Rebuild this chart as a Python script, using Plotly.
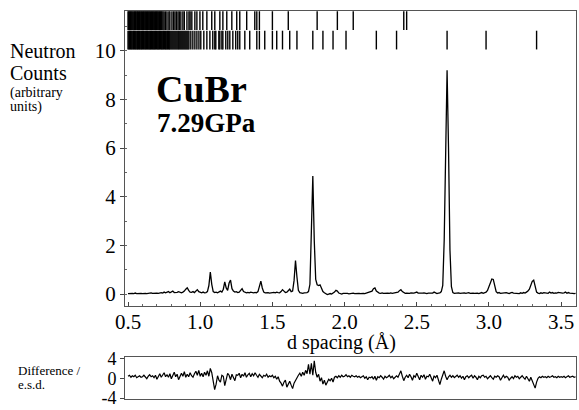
import plotly.graph_objects as go

# ---------------- data ----------------
d_start = 0.50
d_step = 0.01
counts = [
    0.02, 0.03, 0.01, 0.03, 0.02, 0.04, 0.02, 0.03, 0.01, 0.03,   # 0.50
    0.02, 0.04, 0.03, 0.02, 0.04, 0.03, 0.05, 0.03, 0.04, 0.02,   # 0.60
    0.04, 0.03, 0.05, 0.06, 0.04, 0.08, 0.05, 0.06, 0.10, 0.05,   # 0.70
    0.08, 0.12, 0.06, 0.05, 0.07, 0.10, 0.06, 0.05, 0.08, 0.12,   # 0.80
    0.20, 0.26, 0.15, 0.08, 0.07, 0.10, 0.06, 0.12, 0.18, 0.10,   # 0.90
    0.06, 0.05, 0.08, 0.05, 0.06, 0.10, 0.35, 0.90, 0.40, 0.10,   # 1.00
    0.06, 0.08, 0.05, 0.07, 0.12, 0.08, 0.20, 0.50, 0.25, 0.15,   # 1.10
    0.45, 0.57, 0.22, 0.12, 0.08, 0.10, 0.06, 0.08, 0.14, 0.22,   # 1.20
    0.10, 0.06, 0.05, 0.07, 0.05, 0.08, 0.06, 0.05, 0.07, 0.05,   # 1.30
    0.10, 0.30, 0.53, 0.25, 0.08, 0.05, 0.07, 0.06, 0.04, 0.06,   # 1.40
    0.05, 0.07, 0.05, 0.08, 0.06, 0.05, 0.10, 0.18, 0.12, 0.06,   # 1.50
    0.08, 0.15, 0.20, 0.10, 0.12, 0.55, 1.38, 0.70, 0.15, 0.06,   # 1.60
    0.04, 0.03, 0.05, 0.04, 0.06, 0.10, 0.40, 2.60, 4.85, 2.20,   # 1.70
    0.60, 0.38, 0.35, 0.38, 0.25, 0.10, 0.05, 0.02, -0.02, 0.00,  # 1.80
    0.02, 0.00, 0.03, 0.08, 0.15, 0.12, 0.04, 0.02, 0.00, 0.03,   # 1.90
    0.04, 0.02, 0.03, 0.01, 0.03, 0.02, 0.04, 0.02, 0.03, 0.02,   # 2.00
    0.03, 0.02, 0.04, 0.03, 0.02, 0.04, 0.03, 0.05, 0.08, 0.12,   # 2.10
    0.22, 0.25, 0.12, 0.06, 0.04, 0.03, 0.05, 0.03, 0.04, 0.02,   # 2.20
    0.04, 0.03, 0.05, 0.03, 0.04, 0.06, 0.04, 0.08, 0.14, 0.18,   # 2.30
    0.10, 0.05, 0.03, 0.04, 0.02, 0.03, 0.05, 0.03, 0.04, 0.06,   # 2.40
    0.08, 0.04, 0.03, 0.02, 0.04, 0.05, 0.03, 0.02, 0.04, 0.03,   # 2.50
    0.05, 0.04, 0.08, 0.03, 0.02, 0.04, 0.05, 0.10, 0.35, 2.20,   # 2.60
    6.80, 9.20, 6.00, 1.80, 0.30, 0.06, 0.03, 0.04, 0.02, 0.05,   # 2.70
    0.03, 0.04, 0.02, 0.05, 0.03, 0.04, 0.06, 0.03, 0.05, 0.04,   # 2.80
    0.03, 0.05, 0.04, 0.02, 0.04, 0.06, 0.03, 0.05, 0.08, 0.15,   # 2.90
    0.32, 0.50, 0.62, 0.60, 0.35, 0.10, 0.04, 0.06, 0.03, 0.04,   # 3.00
    0.05, 0.03, 0.06, 0.04, 0.02, 0.05, 0.07, 0.04, 0.03, 0.05,   # 3.10
    0.04, 0.02, 0.05, 0.03, 0.06, 0.04, 0.08, 0.12, 0.20, 0.38,   # 3.20
    0.52, 0.57, 0.30, 0.08, 0.04, 0.02, 0.05, 0.03, 0.06, 0.04,   # 3.30
    0.05, 0.03, 0.08, 0.04, 0.06, 0.03, 0.05, 0.04, 0.07, 0.05,   # 3.40
    0.06, 0.04, 0.05, 0.08, 0.03, 0.06, 0.04, 0.05, 0.03, 0.02,   # 3.50
    0.03,                                                          # 3.60
]
d_spacing = [round(d_start + i * d_step, 3) for i in range(len(counts))]

diff_start = 0.50
diff_step = 0.01
difference = [
    0.4, 0.6, 0.2, 0.5, 0.3, 0.6, 0.1, 0.4, 0.5, 0.2,            # 0.50
    0.3, 0.6, 0.2, -0.1, 0.4, 0.7, 0.3, 0.5, 0.1, 0.6,           # 0.60
    -0.2, 0.5, 0.9, 0.2, 0.6, 1.1, 0.3, 0.7, 0.2, 0.9,           # 0.70
    -0.1, 0.6, 1.2, 0.3, 0.8, -0.3, 0.5, 1.0, 0.4, 1.3,          # 0.80
    0.2, 0.8, 0.3, 1.1, 0.5, 0.2, 0.9, 1.4, 0.6, 1.6,            # 0.90
    0.4, 1.0, 0.3, 1.2, 0.6, 1.5, 0.4, 2.0, 1.1, -0.6,           # 1.00
    -2.3, -1.2, 0.5, -0.4, -0.8, 0.6, 0.4, -1.5, -0.5, 1.0,      # 1.10
    0.6, -0.3, 0.8, 0.2, -0.5, 0.7, 0.6, 1.0, 0.1, 0.8,          # 1.20
    0.4, 1.1, 0.2, 0.7, 1.0, 0.3, 0.9, 0.5, 1.1, 0.6,            # 1.30
    0.2, 0.8, 0.5, 0.1, 0.6, 0.4, 0.8, 0.2, 0.5, 0.3,            # 1.40
    0.6, 0.1, 0.4, -0.2, 0.3, -0.6, -1.0, -1.6, -0.8, -0.4,      # 1.50
    -1.8, -1.2, -0.6, -1.4, -2.1, -1.0, -0.4, 0.3, 0.6, 1.0,     # 1.60
    0.4, 1.2, 0.6, 1.6, 0.9, 2.8, 0.8, 3.0, 0.6, 3.5,            # 1.70
    1.2, 0.2, 0.8, -0.6, 0.1, -1.2, -0.4, -1.4, -0.8, -0.2,      # 1.80
    -0.5, 0.0, -0.8, 0.2, 0.4, 0.1, 0.5, 0.2, 0.6, 0.3,          # 1.90
    0.4, 0.7, 0.3, 0.5, 0.2, 0.6, 0.4, 0.3, 0.5, 0.2,            # 2.00
    0.4, 0.1, 0.3, 0.5, 0.0, 0.3, -0.3, 0.2, 0.1, 0.3,           # 2.10
    -0.2, 0.4, -0.4, 0.3, 0.1, 0.5, 0.2, -0.2, 0.4, 0.1,         # 2.20
    0.3, 0.6, 0.1, 0.4, -0.1, 0.3, 0.5, 0.2, 0.8, 1.5,           # 2.30
    0.4, -0.5, 0.2, 0.6, 0.1, 0.8, 0.3, -0.4, 0.5, 0.2,          # 2.40
    1.0, 0.4, -0.3, 0.6, 0.2, 0.7, -0.2, 0.4, 0.3, 0.8,          # 2.50
    0.2, -0.6, 0.5, 0.1, 0.6, -0.4, -1.3, -0.2, 0.6, 1.5,        # 2.60
    0.4, -0.3, 0.3, 0.6, 0.2, 0.5, 0.1, 0.4, 0.6, 0.2,           # 2.70
    0.5, 0.0, 0.4, -0.3, 0.3, 0.5, 0.1, 0.4, 0.6, 0.0,           # 2.80
    0.5, 0.2, -0.3, 0.4, 0.1, 0.5, 0.6, 0.2, 0.4, -0.1,          # 2.90
    0.3, 0.5, 0.1, -0.2, 0.4, 0.2, 0.5, 0.3, -0.4, 0.2,          # 3.00
    0.6, 0.1, 0.4, 0.2, -0.4, 0.0, 0.3, -0.1, 0.5, 0.2,          # 3.10
    0.4, -0.1, 0.3, 0.5, 0.1, -0.2, 0.4, 0.0, -0.6, 0.2,         # 3.20
    -0.5, -1.2, -2.0, -0.8, 0.0, 0.3, 0.1, 0.4, 0.2, 0.3,        # 3.30
    0.1, 0.4, 0.2, 0.3, 0.5, 0.2, 0.3, 0.1, 0.4, 0.2,            # 3.40
    0.3, 0.2, 0.4, 0.1, 0.3, 0.5, 0.2, 0.3, 0.4, 0.2,            # 3.50
    0.3,                                                          # 3.60
]
diff_d = [round(diff_start + i * diff_step, 3) for i in range(len(difference))]

# reflection markers (d-spacings) for the two rows
reflections_upper = [
    0.500, 0.505, 0.511, 0.516, 0.522, 0.527, 0.533, 0.540, 0.545, 0.551,
    0.556, 0.562, 0.567, 0.573, 0.579, 0.584, 0.590, 0.595, 0.601, 0.607,
    0.612, 0.618, 0.623, 0.629, 0.635, 0.640, 0.646, 0.651, 0.657, 0.663,
    0.668, 0.674, 0.679, 0.685, 0.691, 0.696, 0.702, 0.707, 0.713, 0.719,
    0.724, 0.730, 0.735, 0.742, 0.750, 0.760, 0.770, 0.783, 0.790, 0.804,
    0.815, 0.825, 0.835, 0.846, 0.855, 0.866, 0.880, 0.890, 0.908, 0.922,
    0.930, 0.942, 0.963, 0.977, 0.998, 1.018, 1.046, 1.080, 1.101, 1.136,
    1.157, 1.184, 1.219, 1.253, 1.274, 1.322, 1.378, 1.392, 1.410, 1.500,
    1.610, 1.810, 1.950, 2.060, 2.410, 2.430,
]
reflections_lower = [
    0.500, 0.506, 0.511, 0.517, 0.522, 0.528, 0.534, 0.539, 0.545, 0.550,
    0.556, 0.562, 0.567, 0.573, 0.578, 0.584, 0.590, 0.595, 0.601, 0.606,
    0.612, 0.618, 0.623, 0.629, 0.634, 0.640, 0.646, 0.651, 0.657, 0.662,
    0.668, 0.674, 0.679, 0.685, 0.690, 0.696, 0.702, 0.707, 0.713, 0.718,
    0.724, 0.730, 0.735, 0.741, 0.746, 0.752, 0.758, 0.763, 0.769, 0.774,
    0.780, 0.785, 0.790, 0.797, 0.804, 0.811, 0.818, 0.825, 0.832, 0.839,
    0.846, 0.852, 0.859, 0.866, 0.873, 0.880, 0.887, 0.894, 0.901, 0.908,
    0.915, 0.922, 0.935, 0.949, 0.963, 0.977, 0.991, 1.004, 1.025, 1.046,
    1.067, 1.087, 1.101, 1.108, 1.129, 1.136, 1.150, 1.157, 1.177, 1.191,
    1.205, 1.226, 1.246, 1.260, 1.274, 1.309, 1.343, 1.392, 1.410, 1.447,
    1.500, 1.530, 1.570, 1.620, 1.670, 1.780, 1.850, 1.920, 2.010, 2.220,
    2.360, 2.710, 2.980, 3.330,
]
upper_span = (10.85, 11.62)
lower_span = (10.05, 10.82)

y_ticks_main = [0, 2, 4, 6, 8, 10]
y_ticks_diff = [-4, 0, 4]
x_ticks = [0.5, 1.0, 1.5, 2.0, 2.5, 3.0, 3.5]

# ---------------- figure ----------------
FONT = "Liberation Serif"
fig = go.Figure()

fig.add_trace(go.Scatter(
    x=d_spacing, y=counts, mode="lines",
    line=dict(color="black", width=1.3), xaxis="x", yaxis="y",
    showlegend=False, hoverinfo="skip"))


def tick_segments(positions, span):
    xs, ys = [], []
    for p in positions:
        xs += [p, p, None]
        ys += [span[0], span[1], None]
    return xs, ys


for refl, span in ((reflections_upper, upper_span), (reflections_lower, lower_span)):
    tx, ty = tick_segments(refl, span)
    fig.add_trace(go.Scatter(
        x=tx, y=ty, mode="lines", line=dict(color="black", width=1.4),
        xaxis="x", yaxis="y", showlegend=False, hoverinfo="skip"))

fig.add_trace(go.Scatter(
    x=diff_d, y=difference, mode="lines",
    line=dict(color="black", width=1.2), xaxis="x2", yaxis="y2",
    showlegend=False, hoverinfo="skip"))

# plot area in pixels: x 125..577, y 10..402  (height 392, width 452)
H, W = 392.0, 452.0
def py(p):
    return (402 - p) / H
def px(p):
    return (p - 125) / W

axis_line = dict(showline=True, linecolor="#555", linewidth=1, mirror=True,
                 showgrid=False, zeroline=False)

fig.update_layout(
    width=579, height=410,
    margin=dict(l=125, r=2, t=10, b=8),
    paper_bgcolor="white", plot_bgcolor="white",
    font=dict(family=FONT, color="black"),
    xaxis=dict(domain=[0, 1], anchor="y", range=[0.479, 3.603],
               tickvals=x_ticks, ticktext=["%.1f" % v for v in x_ticks],
               ticks="inside", ticklen=4, tickcolor="#444", ticklabelstandoff=-3,
               minor=dict(dtick=0.1, tick0=0.5, ticks="inside", ticklen=2, tickcolor="#666"),
               tickfont=dict(size=21, family=FONT), **axis_line),
    yaxis=dict(domain=[py(308), 1], anchor="x", range=[-0.49, 11.63],
               tickvals=y_ticks_main, ticks="outside", ticklen=4, tickcolor="#444",
               minor=dict(dtick=1, tick0=0, ticks="inside", ticklen=2, tickcolor="#666"),
               tickfont=dict(size=21, family=FONT), **axis_line),
    xaxis2=dict(domain=[0, 1], anchor="y2", matches="x", range=[0.479, 3.603],
                showticklabels=False, ticks="", **axis_line),
    yaxis2=dict(domain=[0, py(360)], anchor="x2", range=[-4.2, 4.2],
                tickvals=y_ticks_diff, ticktext=["-4", "0", "4"],
                ticks="outside", ticklen=4, tickcolor="#444",
                ticklabeloverflow="allow",
                tickfont=dict(size=18, family=FONT), **axis_line),
)

ann = [
    dict(text="Neutron", x=px(8), y=py(50), size=20, bold=False),
    dict(text="Counts", x=px(8), y=py(73), size=20, bold=False),
    dict(text="(arbitrary", x=px(8), y=py(93), size=14, bold=False),
    dict(text="units)", x=px(8), y=py(107), size=14, bold=False),
    dict(text="CuBr", x=px(154), y=py(89), size=38, bold=True),
    dict(text="7.29GPa", x=px(155), y=py(123), size=27, bold=True),
    dict(text="Difference /", x=px(16), y=py(373), size=13, bold=False),
    dict(text="e.s.d.", x=px(16), y=py(387), size=13, bold=False),
]
for a in ann:
    txt = "<b>%s</b>" % a["text"] if a["bold"] else a["text"]
    fig.add_annotation(text=txt, x=a["x"], y=a["y"], xref="paper", yref="paper",
                       xanchor="left", yanchor="middle", showarrow=False,
                       font=dict(family=FONT, size=a["size"], color="black"))

fig.add_annotation(text="d spacing (Å)", x=px(342), y=py(345), xref="paper", yref="paper",
                   xanchor="center", yanchor="middle", showarrow=False,
                   font=dict(family=FONT, size=20, color="black"))

fig.write_html("out.html", config={"displayModeBar": False},
               post_script="document.body.style.margin='0';")
